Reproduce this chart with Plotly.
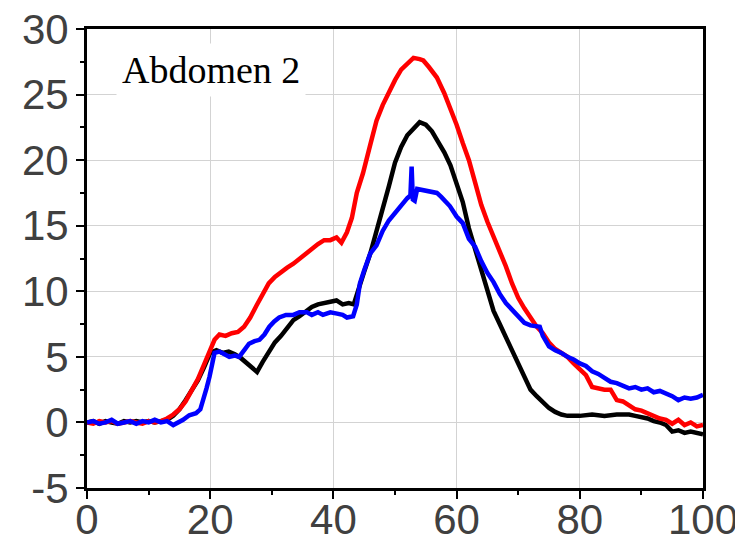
import plotly.graph_objects as go

black_x = [0,1,2,3,4,5,6,7,8,9,10,11,12,13,14,15,16,17,18,19,20,21,22,23,24,25,26,27,27.6,28.5,29.5,30.5,31.5,32.5,33.5,34.5,35.5,36.5,37.5,38.5,39.5,40.5,41.5,42.5,43.3,44.3,45,46,47,48,49,50,51,52,53,54,55,56,57,58,59,60,61,62,63,64,65,66,67,68,69,70,71,72,73,74,75,76,77,78,80,82,84,86,88,89,90,91,92,93,94,95,96,97,98,99,100]
black_y = [0,0.1,-0.1,0.1,0,-0.1,0.1,0,0.1,0,0.1,0,0.1,0.2,0.5,1.0,1.7,2.4,3.2,4.2,5.3,5.5,5.3,5.4,5.2,4.9,4.5,4.1,3.85,4.6,5.4,6.1,6.6,7.2,7.8,8.1,8.5,8.8,9.0,9.1,9.2,9.3,9.0,9.1,9.0,10.6,11.5,12.9,14.5,16.3,18.0,19.8,21.0,21.9,22.4,22.9,22.7,22.2,21.4,20.6,19.6,18.2,16.8,14.8,13.2,11.5,10.0,8.5,7.5,6.5,5.6,4.6,3.4,2.5,2.0,1.5,1.1,0.8,0.6,0.5,0.5,0.6,0.5,0.6,0.6,0.5,0.4,0.3,0.1,0,-0.2,-0.7,-0.6,-0.8,-0.7,-0.8,-0.9]

red_x = [0,1,2,3,4,5,6,7,8,9,10,11,12,13,14,15,16,17,18,19,20,20.7,21.5,22.5,23.5,24.5,25.5,26.5,27.5,28.5,29.5,30.5,31.5,32.5,33.5,34.5,35.5,36.5,37.5,38.5,39.5,40.5,41.3,42.2,43,43.8,44.8,46,47,48,49,50,51,52,53,54,54.6,55.5,56.8,58,59,60,61,62,63,64,65,66,67,68,69,70,71,72,73,74,75,76,77,78,79,80,81,82,83,84,85,86,87,88,89,90,91,92,93,94,95,96,97,98,99,100]
red_y = [0,-0.1,0.1,0,0.1,-0.1,0,0.1,0,-0.1,0.1,0,0.1,0.3,0.6,1.0,1.6,2.4,3.3,4.4,5.6,6.3,6.7,6.6,6.8,6.9,7.3,8.0,8.9,9.8,10.6,11.1,11.5,11.8,12.1,12.5,12.9,13.3,13.6,13.9,13.9,14.1,13.7,14.5,15.6,17.5,19.0,21.2,23.0,24.2,25.2,26.1,26.9,27.4,27.8,27.7,27.6,27.1,26.3,25.1,24.0,22.7,21.3,20.0,18.3,16.6,15.3,14.2,13.0,11.9,10.6,9.5,8.7,8.0,7.3,6.8,6.1,5.6,5.3,5.0,4.5,4.1,3.6,2.7,2.6,2.5,2.5,1.7,1.6,1.3,1.0,0.9,0.7,0.5,0.3,0.2,-0.1,0.2,-0.2,0.0,-0.3,-0.2]

blue_x = [0,1,2,3,4,5,6,7,8,9,10,11,12,13,14,15,15.6,16.6,17.7,18.4,18.9,19.4,19.9,20.3,20.7,21.5,22.3,23.1,24,24.7,25.5,26.3,27.2,28,28.8,29.6,30.4,31.2,32.3,33.5,34.5,35.7,36.5,37.5,38.3,39.5,40.6,41.5,42.2,43.2,43.8,44.3,45,46,47,48,49,50,51,52,52.5,52.7,52.9,53.2,53.6,54.5,55.5,56.8,57.5,58.9,60,61,62,63,64,65,66,67,68,69,70,71,72,73,73.5,74,75,76,77,78,79,80,81,82,83,84,85,86,87,88,89,90,91,92,93,94,95,96,97,98,99,100]
blue_y = [0,0.1,-0.1,0,0.2,-0.1,0,0.1,-0.1,0.1,0,0.2,0,0.1,-0.2,0,0.2,0.55,0.7,1.0,1.7,2.6,3.5,4.5,5.3,5.4,5.2,5.0,5.1,5.0,5.5,6.0,6.2,6.3,6.7,7.3,7.7,8.0,8.2,8.2,8.4,8.4,8.2,8.4,8.2,8.4,8.3,8.2,8.0,8.1,9.0,10.6,11.6,12.9,13.5,14.6,15.4,16.0,16.6,17.1,17.3,19.5,17.0,16.9,17.8,17.7,17.6,17.5,17.2,16.5,15.7,15.2,14.0,13.4,12.3,11.4,10.7,9.8,9.1,8.6,8.0,7.6,7.4,7.3,7.3,6.6,5.8,5.5,5.3,5.0,4.8,4.5,4.3,3.9,3.7,3.4,3.1,3.0,2.8,2.6,2.7,2.5,2.6,2.3,2.4,2.2,2.0,1.7,1.9,1.8,1.9,2.1]

x_ticks = [0, 20, 40, 60, 80, 100]
y_ticks = [-5, 0, 5, 10, 15, 20, 25, 30]
label_text = "Abdomen 2"

fig = go.Figure()
for xs, ys, col in [(black_x, black_y, "#000000"), (red_x, red_y, "#ff0000"), (blue_x, blue_y, "#0000ff")]:
    fig.add_trace(go.Scatter(x=xs, y=ys, mode="lines", line=dict(color=col, width=4.5), showlegend=False))

tickfont = dict(family="Liberation Sans, Arial, sans-serif", size=42, color="#404040")
fig.update_xaxes(range=[0, 100], tickvals=x_ticks, ticktext=[str(v) for v in x_ticks], automargin=False,
                 showline=True, linecolor="black", linewidth=3, mirror=True, ticklabeloverflow="allow",
                 ticks="outside", ticklen=8, tickwidth=2, tickcolor="black", ticklabelstandoff=-15,
                 minor=dict(dtick=10, tick0=0, ticks="outside", ticklen=4, tickwidth=2, tickcolor="black", showgrid=False),
                 showgrid=True, gridcolor="#d3d3d3", gridwidth=1, zeroline=False, tickfont=tickfont)
fig.update_yaxes(range=[-5, 30], tickvals=y_ticks, ticktext=[str(v) for v in y_ticks], automargin=False,
                 showline=True, linecolor="black", linewidth=3, mirror=True, ticklabeloverflow="allow",
                 ticks="outside", ticklen=8, tickwidth=2, tickcolor="black", ticklabelstandoff=-1,
                 minor=dict(dtick=2.5, tick0=0, ticks="outside", ticklen=4, tickwidth=2, tickcolor="black", showgrid=False),
                 showgrid=True, gridcolor="#d3d3d3", gridwidth=1, zeroline=False, tickfont=tickfont)

fig.add_annotation(x=20.2, y=26.9, xref="x", yref="y", text=label_text, showarrow=False,
                   font=dict(family="Liberation Serif, Times New Roman, serif", size=38, color="black"),
                   bgcolor="white", borderpad=5)

fig.update_layout(width=743, height=537, margin=dict(l=79, r=48, t=21, b=57),
                  plot_bgcolor="white", paper_bgcolor="white")
fig.write_html("out.html")
